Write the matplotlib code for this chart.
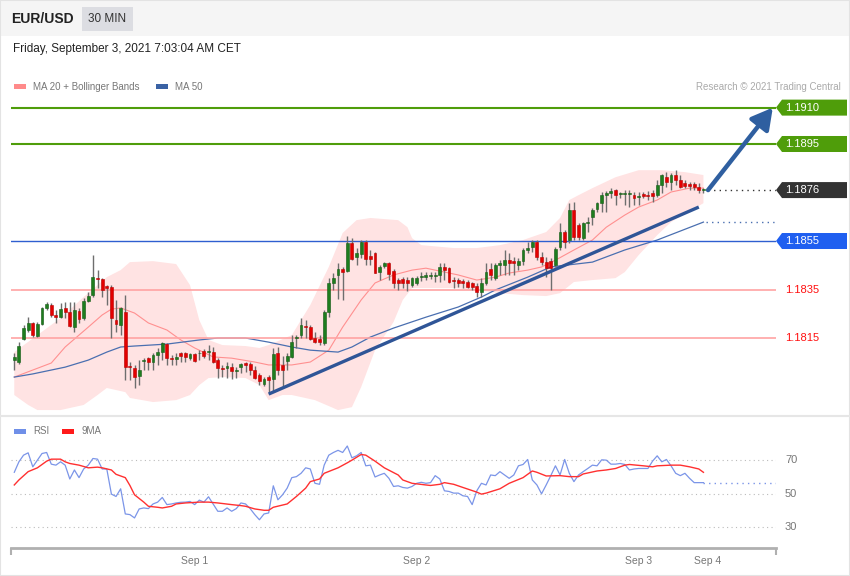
import matplotlib
matplotlib.use("Agg")
import matplotlib.pyplot as plt
from matplotlib.patches import Rectangle, Polygon
from matplotlib.lines import Line2D
from matplotlib.transforms import IdentityTransform, blended_transform_factory

plt.rcParams['font.family'] = ['Liberation Sans', 'DejaVu Sans']

W, H = 850, 576

# --- candle data (30 min EUR/USD) ---
opens = [
    1.18059, 1.18051, 1.18146, 1.18183, 1.18213, 1.18158, 1.18208, 1.18275, 1.18286, 1.18245,
    1.18238, 1.18272, 1.18258, 1.18197, 1.18262, 1.18231, 1.18304, 1.18327, 1.18396, 1.18393,
    1.18364, 1.18361, 1.18224, 1.18203, 1.18257, 1.18034, 1.18025, 1.17993, 1.18055, 1.18066,
    1.18052, 1.18080, 1.18093, 1.18125, 1.18069, 1.18063, 1.18088, 1.18087, 1.18069, 1.18084,
    1.18087, 1.18098, 1.18091, 1.18093, 1.18059, 1.18026, 1.18026, 1.18032, 1.18014, 1.18030,
    1.18047, 1.18043, 1.18018, 1.17997, 1.17959, 1.17990, 1.17981, 1.18089, 1.18039, 1.18055,
    1.18073, 1.18149, 1.18162, 1.18199, 1.18197, 1.18151, 1.18146, 1.18128, 1.18258, 1.18375,
    1.18410, 1.18433, 1.18426, 1.18540, 1.18485, 1.18495, 1.18547, 1.18489, 1.18499, 1.18423,
    1.18447, 1.18458, 1.18427, 1.18389, 1.18392, 1.18389, 1.18368, 1.18375, 1.18403, 1.18403,
    1.18407, 1.18406, 1.18410, 1.18444, 1.18437, 1.18389, 1.18389, 1.18385, 1.18382, 1.18375,
    1.18364, 1.18341, 1.18375, 1.18433, 1.18396, 1.18451, 1.18451, 1.18471, 1.18469, 1.18451,
    1.18467, 1.18513, 1.18526, 1.18547, 1.18485, 1.18464, 1.18469, 1.18451, 1.18524, 1.18588,
    1.18554, 1.18678, 1.18616, 1.18561, 1.18623, 1.18650, 1.18680, 1.18706, 1.18741, 1.18748,
    1.18761, 1.18743, 1.18745, 1.18745, 1.18741, 1.18732, 1.18743, 1.18741, 1.18750, 1.18741,
    1.18781, 1.18815, 1.18794, 1.18822, 1.18801, 1.18788, 1.18783, 1.18783, 1.18774, 1.18760,
]
highs = [
    1.18088, 1.18133, 1.18203, 1.18238, 1.18217, 1.18216, 1.18279, 1.18300, 1.18293, 1.18265,
    1.18293, 1.18300, 1.18300, 1.18300, 1.18272, 1.18314, 1.18341, 1.18492, 1.18430, 1.18396,
    1.18368, 1.18368, 1.18307, 1.18279, 1.18327, 1.18052, 1.18039, 1.18059, 1.18066, 1.18073,
    1.18088, 1.18109, 1.18135, 1.18129, 1.18080, 1.18087, 1.18092, 1.18093, 1.18087, 1.18087,
    1.18100, 1.18103, 1.18121, 1.18112, 1.18066, 1.18039, 1.18052, 1.18046, 1.18032, 1.18048,
    1.18052, 1.18052, 1.18034, 1.18004, 1.17990, 1.17997, 1.18109, 1.18113, 1.18076, 1.18087,
    1.18162, 1.18162, 1.18232, 1.18224, 1.18203, 1.18175, 1.18162, 1.18265, 1.18396, 1.18419,
    1.18458, 1.18444, 1.18570, 1.18561, 1.18520, 1.18554, 1.18554, 1.18513, 1.18506, 1.18451,
    1.18463, 1.18464, 1.18433, 1.18396, 1.18401, 1.18403, 1.18403, 1.18406, 1.18422, 1.18422,
    1.18422, 1.18423, 1.18458, 1.18458, 1.18444, 1.18403, 1.18396, 1.18393, 1.18389, 1.18382,
    1.18375, 1.18396, 1.18458, 1.18458, 1.18460, 1.18471, 1.18513, 1.18499, 1.18485, 1.18478,
    1.18520, 1.18547, 1.18554, 1.18554, 1.18506, 1.18485, 1.18478, 1.18526, 1.18623, 1.18595,
    1.18708, 1.18712, 1.18623, 1.18629, 1.18650, 1.18685, 1.18712, 1.18753, 1.18756, 1.18767,
    1.18764, 1.18753, 1.18760, 1.18760, 1.18753, 1.18753, 1.18753, 1.18756, 1.18760, 1.18801,
    1.18827, 1.18835, 1.18831, 1.18842, 1.18822, 1.18801, 1.18794, 1.18793, 1.18788, 1.18767,
]
lows = [
    1.18018, 1.18043, 1.18142, 1.18176, 1.18155, 1.18154, 1.18203, 1.18265, 1.18238, 1.18210,
    1.18231, 1.18231, 1.18197, 1.18176, 1.18210, 1.18224, 1.18300, 1.18320, 1.18355, 1.18320,
    1.18286, 1.18149, 1.18176, 1.18162, 1.17977, 1.17977, 1.17943, 1.17956, 1.18018, 1.18018,
    1.18018, 1.18039, 1.18059, 1.18039, 1.18039, 1.18039, 1.18052, 1.18052, 1.18059, 1.18052,
    1.18059, 1.18066, 1.18059, 1.18046, 1.17984, 1.17990, 1.17984, 1.17980, 1.17984, 1.18004,
    1.18011, 1.17997, 1.17980, 1.17956, 1.17952, 1.17919, 1.17929, 1.17997, 1.17948, 1.18018,
    1.18066, 1.18107, 1.18150, 1.18150, 1.18142, 1.18128, 1.18121, 1.18121, 1.18238, 1.18348,
    1.18309, 1.18307, 1.18423, 1.18471, 1.18451, 1.18478, 1.18451, 1.18451, 1.18417, 1.18389,
    1.18438, 1.18389, 1.18355, 1.18348, 1.18356, 1.18344, 1.18361, 1.18368, 1.18385, 1.18389,
    1.18393, 1.18382, 1.18382, 1.18389, 1.18375, 1.18355, 1.18361, 1.18355, 1.18355, 1.18348,
    1.18320, 1.18320, 1.18368, 1.18389, 1.18389, 1.18410, 1.18410, 1.18410, 1.18410, 1.18430,
    1.18451, 1.18499, 1.18506, 1.18471, 1.18451, 1.18403, 1.18348, 1.18444, 1.18513, 1.18520,
    1.18540, 1.18554, 1.18554, 1.18554, 1.18588, 1.18616, 1.18671, 1.18671, 1.18671, 1.18726,
    1.18698, 1.18726, 1.18698, 1.18691, 1.18698, 1.18698, 1.18726, 1.18719, 1.18712, 1.18732,
    1.18748, 1.18774, 1.18760, 1.18781, 1.18767, 1.18767, 1.18760, 1.18760, 1.18748, 1.18748,
]
closes = [
    1.18073, 1.18117, 1.18191, 1.18213, 1.18162, 1.18208, 1.18275, 1.18289, 1.18245, 1.18238,
    1.18268, 1.18258, 1.18199, 1.18265, 1.18227, 1.18304, 1.18323, 1.18400, 1.18392, 1.18348,
    1.18355, 1.18232, 1.18208, 1.18272, 1.18032, 1.18031, 1.17988, 1.18018, 1.18058, 1.18052,
    1.18080, 1.18093, 1.18128, 1.18067, 1.18063, 1.18073, 1.18076, 1.18073, 1.18083, 1.18055,
    1.18089, 1.18076, 1.18098, 1.18052, 1.18025, 1.18022, 1.18034, 1.18014, 1.18018, 1.18043,
    1.18039, 1.18018, 1.17986, 1.17974, 1.17981, 1.17977, 1.18084, 1.18018, 1.18018, 1.18076,
    1.18135, 1.18155, 1.18203, 1.18197, 1.18146, 1.18135, 1.18134, 1.18258, 1.18378, 1.18396,
    1.18433, 1.18423, 1.18540, 1.18474, 1.18499, 1.18547, 1.18474, 1.18476, 1.18419, 1.18444,
    1.18458, 1.18414, 1.18378, 1.18378, 1.18375, 1.18375, 1.18396, 1.18396, 1.18406, 1.18410,
    1.18410, 1.18410, 1.18444, 1.18430, 1.18382, 1.18385, 1.18378, 1.18375, 1.18361, 1.18361,
    1.18341, 1.18378, 1.18423, 1.18410, 1.18451, 1.18460, 1.18471, 1.18458, 1.18458, 1.18467,
    1.18513, 1.18522, 1.18547, 1.18485, 1.18464, 1.18437, 1.18437, 1.18516, 1.18588, 1.18547,
    1.18678, 1.18565, 1.18567, 1.18623, 1.18629, 1.18678, 1.18708, 1.18741, 1.18749, 1.18756,
    1.18741, 1.18748, 1.18748, 1.18750, 1.18726, 1.18736, 1.18736, 1.18736, 1.18736, 1.18781,
    1.18822, 1.18794, 1.18822, 1.18801, 1.18774, 1.18776, 1.18776, 1.18774, 1.18760, 1.18760,
]

# Bollinger bands (sampled)
bb_up_idx = [0, 5, 10, 15, 20, 23, 25, 30, 35, 38, 40, 42, 45, 50, 53, 55, 60, 64, 68, 71,
             74, 77, 83, 85, 86, 88, 95, 100, 105, 110, 115, 118, 120, 122, 125, 130, 135, 140, 145, 149]
bb_up = [1.18092, 1.18162, 1.18232, 1.18319, 1.18401, 1.18430, 1.18463, 1.18467, 1.18455, 1.18368,
         1.18224, 1.18142, 1.18121, 1.18117, 1.18109, 1.18121, 1.18162, 1.18286, 1.18443, 1.18583,
         1.18636, 1.18645, 1.18636, 1.18607, 1.18562, 1.18533, 1.18521, 1.18521, 1.18533, 1.18554,
         1.18587, 1.18645, 1.18719, 1.18739, 1.18768, 1.18813, 1.18842, 1.18842, 1.18834, 1.18822]
bb_lo_idx = [0, 3, 5, 10, 15, 18, 20, 24, 25, 30, 35, 38, 40, 42, 45, 50, 53, 55, 58, 60,
             65, 70, 73, 75, 78, 82, 84, 86, 90, 95, 100, 105, 110, 115, 118, 121, 125, 130, 132,
             135, 139, 142, 149]
bb_lo = [1.17915, 1.17874, 1.17853, 1.17853, 1.17874, 1.17915, 1.17944, 1.17927, 1.17903, 1.17886,
         1.17894, 1.17915, 1.17956, 1.17985, 1.17989, 1.17985, 1.17956, 1.17894, 1.17915, 1.17915,
         1.17894, 1.17853, 1.17865, 1.17948, 1.18100, 1.18216, 1.18307, 1.18356, 1.18356, 1.18356,
         1.18348, 1.18335, 1.18327, 1.18323, 1.18335, 1.18381, 1.18389, 1.18397, 1.18422,
         1.18492, 1.18574, 1.18628, 1.18706]

ma20_idx = [0, 8, 11, 16, 19, 21, 23, 26, 29, 33, 36, 39, 43, 47, 52, 55, 60, 64, 68, 71,
            75, 78, 82, 86, 89, 93, 96, 100, 104, 107, 111, 114, 117, 121, 125, 128, 132, 135,
            139, 142, 146, 149]
ma20 = [1.17989, 1.18047, 1.18113, 1.18195, 1.18245, 1.18269, 1.18274, 1.18253, 1.18212, 1.18183,
        1.18142, 1.18109, 1.18072, 1.18067, 1.18051, 1.18039, 1.18039, 1.18051, 1.18100, 1.18195,
        1.18307, 1.18377, 1.18410, 1.18430, 1.18438, 1.18422, 1.18410, 1.18389, 1.18401, 1.18418,
        1.18430, 1.18443, 1.18471, 1.18513, 1.18554, 1.18607, 1.18657, 1.18690, 1.18719, 1.18752,
        1.18768, 1.18768]

ma50_idx = [0, 4, 11, 16, 20, 23, 26, 33, 40, 44, 50, 55, 60, 64, 70, 73, 77, 82, 89, 96,
            101, 104, 111, 116, 125, 132, 139, 149]
ma50 = [1.17989, 1.18002, 1.18030, 1.18059, 1.18092, 1.18113, 1.18117, 1.18125, 1.18142, 1.18150,
        1.18150, 1.18133, 1.18113, 1.18100, 1.18092, 1.18113, 1.18154, 1.18191, 1.18236, 1.18278,
        1.18319, 1.18348, 1.18401, 1.18443, 1.18463, 1.18513, 1.18554, 1.18628]

# analyst drawings and levels
trend_idx = [55, 148]
trend_px = [1.17919, 1.18690]
arrow_idx = [150, 164]
arrow_px = [1.1876, 1.1910]
last_price = 1.1876
levels = [1.1910, 1.1895, 1.1855, 1.1835, 1.1815]
level_kind = ['res', 'res', 'pivot', 'sup', 'sup']

# RSI panel
rsi = [62.9, 69.2, 73.2, 74.6, 66.2, 70.2, 74.2, 74.8, 67.8, 67.2,
       69.2, 67.2, 58.9, 64.3, 59.7, 64.9, 67.2, 71.2, 70.8, 64.9,
       64.9, 49.8, 48.4, 53.0, 37.9, 37.5, 35.5, 40.9, 41.5, 41.1,
       43.9, 45.0, 47.8, 43.5, 43.9, 44.5, 44.9, 45.0, 45.4, 43.5,
       46.2, 45.0, 48.2, 43.9, 39.5, 39.5, 41.5, 39.5, 41.1, 44.5,
       43.9, 41.1, 37.5, 34.4, 37.9, 38.5, 54.8, 46.4, 49.4, 53.4,
       59.7, 60.3, 62.3, 65.6, 64.9, 56.3, 55.7, 67.2, 73.2, 74.8,
       76.1, 74.8, 78.7, 71.6, 72.8, 74.8, 66.8, 67.2, 60.1, 61.3,
       62.3, 59.3, 54.4, 54.8, 53.8, 53.4, 54.4, 56.3, 56.9,
       56.3, 56.7, 60.9, 58.9, 51.8, 51.4, 50.4, 50.4, 48.8, 48.4,
       43.5, 51.8, 56.3, 55.3, 61.3, 60.9, 63.3, 61.3, 59.3, 61.3,
       66.8, 67.6, 70.6, 58.3, 55.3, 50.0, 55.3, 60.9, 66.8, 61.3,
       70.6, 62.3, 57.3, 61.3, 63.3, 65.2, 67.2, 66.8, 70.4, 70.2,
       67.8, 67.8, 68.2, 67.6, 64.3, 64.9, 65.2, 65.2, 65.2, 69.6,
       72.8, 69.2, 70.6, 66.8, 62.3, 60.9, 62.3, 59.3, 56.7, 56.7, 56.7]
ma9_idx = [0, 1, 3, 5, 7, 8, 10, 11, 12, 14, 16, 18, 19, 21, 22, 24, 25, 26, 28, 29,
           31, 32, 34, 35, 37, 40, 42, 44, 47, 49, 50, 52, 54, 55, 56, 59, 61, 63, 64, 66,
           67, 70, 72, 73, 75, 76, 78, 80, 83, 84, 86, 89,
           90, 92, 93, 95, 97, 100, 101, 102, 105, 107, 110, 112, 113, 115, 118, 120, 122, 123,
           126, 128, 130, 132, 133, 136, 138, 139, 142, 144, 146, 148, 149]
ma9 = [55.3, 58.3, 63.3, 65.6, 69.6, 70.8, 70.8, 69.2, 68.2, 67.2, 65.6, 66.0, 65.6, 64.3, 61.7,
       59.7, 55.0, 49.4, 45.0, 42.5, 41.9, 41.5, 42.5, 43.9, 44.5, 45.0, 45.0, 44.5, 43.5, 42.9,
       42.5, 40.9, 40.1, 40.1, 41.9, 43.9, 48.4, 53.4, 57.3, 58.9, 62.3, 65.6, 68.6, 70.2, 73.6,
       73.2, 69.6, 65.6, 61.3, 58.3, 56.3, 55.3,
       55.0, 55.7, 56.7, 55.7, 53.8, 51.0, 49.8, 50.4, 53.0, 56.3, 59.7, 63.7, 62.9, 60.7,
       60.9, 60.3, 60.3, 61.9, 63.7, 64.3, 65.2, 67.2, 67.6, 66.8, 66.2, 66.8, 67.2, 67.2,
       66.2, 64.9, 62.9]
rsi_levels = [30, 50, 70]
day_ticks = [39, 87, 135, 150]
day_labels = ['Sep 1', 'Sep 2', 'Sep 3', 'Sep 4']


def fx(px):
    return px / W


def fy(py):
    return 1 - py / H


fig = plt.figure(figsize=(W / 100, H / 100), dpi=100)
fig.patch.set_facecolor('white')

# --- header ---
fig.add_artist(Rectangle((0, fy(36)), 1, 36 / H, transform=fig.transFigure,
                         facecolor='#f5f5f5', edgecolor='none', zorder=0))
fig.add_artist(Rectangle((fx(82), fy(31)), 51 / W, 24 / H, transform=fig.transFigure,
                         facecolor='#dcdde2', edgecolor='none', zorder=1))
fig.text(fx(11), fy(19), 'EUR/USD', fontsize=10, fontweight='bold', color='#222222', va='center')
fig.text(fx(107.5), fy(19), '30 MIN', fontsize=8.5, color='#333333', va='center', ha='center')
fig.text(fx(13), fy(49), 'Friday, September 3, 2021 7:03:04 AM CET', fontsize=8.5,
         color='#222222', va='center')

# legends
fig.add_artist(Rectangle((fx(14), fy(89)), 12 / W, 5 / H, transform=fig.transFigure,
                         facecolor='#ff8a8a', edgecolor='none'))
fig.text(fx(33), fy(86.5), 'MA 20 + Bollinger Bands', fontsize=7, color='#777777', va='center')
fig.add_artist(Rectangle((fx(156), fy(89)), 12 / W, 5 / H, transform=fig.transFigure,
                         facecolor='#3a62a4', edgecolor='none'))
fig.text(fx(175), fy(86.5), 'MA 50', fontsize=7, color='#777777', va='center')
fig.text(fx(841), fy(86.5), 'Research \u00a9 2021 Trading Central', fontsize=7,
         color='#aaaaaa', va='center', ha='right')

fig.add_artist(Rectangle((fx(14), fy(434)), 12 / W, 5 / H, transform=fig.transFigure,
                         facecolor='#6f8fe8', edgecolor='none'))
fig.text(fx(33), fy(431.5), 'RSI', fontsize=7, color='#777777', va='center')
fig.add_artist(Rectangle((fx(62), fy(434)), 12 / W, 5 / H, transform=fig.transFigure,
                         facecolor='#ff1a1a', edgecolor='none'))
fig.text(fx(82), fy(431.5), '9MA', fontsize=7, color='#777777', va='center')

# separator + border
fig.add_artist(Line2D([0, 1], [fy(416), fy(416)], transform=fig.transFigure,
                      color='#e6e6e6', lw=1.5))
fig.add_artist(Rectangle((0, 0), 1, 1, transform=fig.transFigure, fill=False,
                         edgecolor='#e3e3e3', lw=1.5))

# --- price panel ---
xmin, xmax = -0.71, 164.69
ax = fig.add_axes([fx(11), fy(412), (776 - 11) / W, (412 - 95) / H])
ax.set_xlim(xmin, xmax)
ax.set_ylim(1.17845, 1.19152)
ax.set_axis_off()

band_x = bb_up_idx + bb_lo_idx[::-1]
band_y = bb_up + bb_lo[::-1]
ax.fill(band_x, band_y, color='#ffe3e3', lw=0, zorder=1)
ax.plot(ma20_idx, ma20, color='#ff9090', lw=0.8, zorder=2)
ax.plot(ma50_idx, ma50, color='#4a6fb0', lw=0.9, zorder=2)

colors = {'res': '#4f9d0a', 'pivot': '#1f5ff0', 'sup': '#ffa3a3'}
line_colors = {'res': '#4f9d0a', 'pivot': '#2f5fd0', 'sup': '#ffa3a3'}
line_w = {'res': 1.5, 'pivot': 1.0, 'sup': 1.2}
for lv, kind in zip(levels, level_kind):
    ax.axhline(lv, color=line_colors[kind], lw=line_w[kind], zorder=3)

# candles
idx = list(range(len(closes)))
wick_c = '#6e6e6e'
ax.vlines(idx, lows, highs, color=wick_c, lw=1, zorder=4)
bottoms = [min(o, c) for o, c in zip(opens, closes)]
heights = [max(abs(c - o), 0.000025) for o, c in zip(opens, closes)]
body_c = ['#1e7d1e' if c >= o else '#e30000' for o, c in zip(opens, closes)]
edge_c = ['#165c16' if c >= o else '#b80000' for o, c in zip(opens, closes)]
ax.bar(idx, heights, bottom=bottoms, width=0.62, color=body_c, edgecolor=edge_c,
       lw=0.4, zorder=5)

# trend line + projection arrow
ax.plot(trend_idx, trend_px, color='#2f5597', lw=2.4, solid_capstyle='butt', zorder=6)
ax.annotate('', xy=(arrow_idx[1], arrow_px[1]), xytext=(arrow_idx[0], arrow_px[0]),
            arrowprops=dict(arrowstyle='-|>,head_length=0.9,head_width=0.5', color='#2f5fa0',
                            lw=3.2, shrinkA=0, shrinkB=0, mutation_scale=14),
            zorder=7, annotation_clip=False)

# dotted extensions of last values
ax.plot([arrow_idx[0], xmax], [last_price, last_price], ls=(0, (1, 3)), color='#333333',
        lw=1, zorder=3)
ax.plot([ma50_idx[-1] + 0.5, xmax], [ma50[-1], ma50[-1]], ls=(0, (1, 3)), color='#4a6fb0',
        lw=1, zorder=3)

# level tags on the right
fig.canvas.draw()
tr = blended_transform_factory(ax.transAxes, ax.transData)
tag_x = (785 - 11) / (776 - 11)


def tag(level, face):
    x0, y0 = ax.transData.transform((xmax, level))
    pts = [(x0, y0), (x0 + 6, y0 + 8), (x0 + 71, y0 + 8), (x0 + 71, y0 - 8), (x0 + 6, y0 - 8)]
    ax.add_patch(Polygon(pts, closed=True, transform=IdentityTransform(), clip_on=False,
                         facecolor=face, edgecolor='none', zorder=8))


for lv, kind in zip(levels, level_kind):
    label = f'{lv:.4f}'
    if kind == 'sup':
        ax.text(tag_x, lv, label, transform=tr, fontsize=8, color='#ff1010', va='center',
                ha='left', clip_on=False)
    else:
        tag(lv, colors[kind])
        ax.text(tag_x, lv, label, transform=tr, fontsize=8, color='white', va='center',
                ha='left', clip_on=False, zorder=9)
tag(last_price, '#333333')
ax.text(tag_x, last_price, f'{last_price:.4f}', transform=tr, fontsize=8, color='white',
        va='center', ha='left', clip_on=False, zorder=9)

# --- RSI panel ---
ax2 = fig.add_axes([fx(11), fy(548), (776 - 11) / W, (548 - 440) / H])
ax2.set_xlim(xmin, xmax)
ax2.set_ylim(17.45, 82.3)
for s in ['top', 'left', 'right']:
    ax2.spines[s].set_visible(False)
ax2.spines['bottom'].set_color('#b0b0b0')
ax2.spines['bottom'].set_linewidth(2)
ax2.set_yticks([])
for lv in rsi_levels:
    ax2.plot([xmin, xmax], [lv, lv], ls=(0, (1, 3)), color='#bbbbbb', lw=0.8)
    ax2.text(tag_x, lv, str(lv), transform=blended_transform_factory(ax2.transAxes, ax2.transData),
             fontsize=8, color='#777777', va='center', ha='left', clip_on=False)
ax2.plot(range(len(rsi)), rsi, color='#7b95e8', lw=0.9)
ax2.plot(ma9_idx, ma9, color='#ff3030', lw=1.0)
ax2.plot([len(rsi) - 1, xmax], [rsi[-1], rsi[-1]], ls=(0, (1, 3)), color='#7b95e8', lw=1)
ax2.set_xticks(day_ticks)
ax2.set_xticklabels(day_labels)
ax2.tick_params(axis='x', which='major', length=0, pad=6, labelsize=7.5, labelcolor='#777777')
ax2.set_xticks([xmin, xmax], minor=True)
ax2.tick_params(axis='x', which='minor', length=5, width=1.5, color='#b0b0b0')

fig.savefig('out.png', dpi=100)
